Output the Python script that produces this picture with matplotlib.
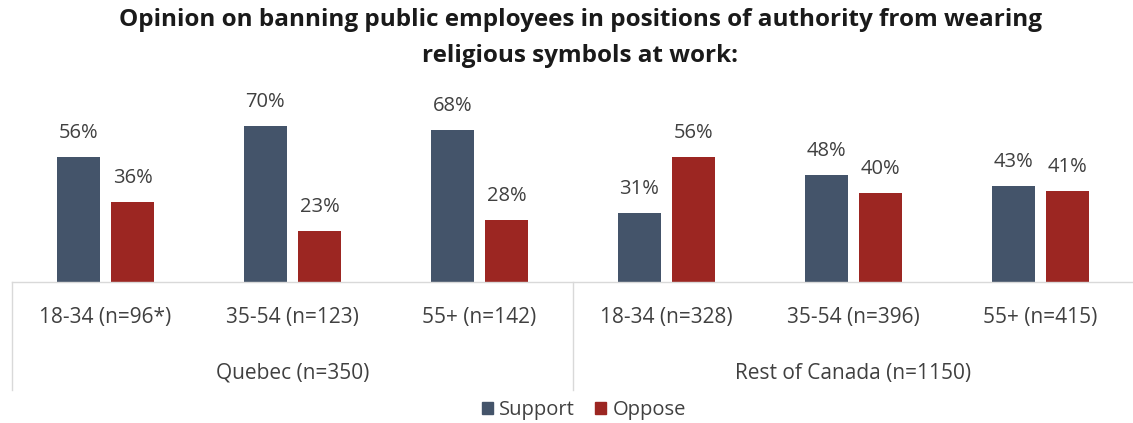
import matplotlib
matplotlib.use("Agg")
import matplotlib.pyplot as plt
import numpy as np
from matplotlib.transforms import blended_transform_factory
from matplotlib.patches import Patch

plt.rcParams['font.family'] = ['Open Sans', 'DejaVu Sans']

categories = ["18-34 (n=96*)", "35-54 (n=123)", "55+ (n=142)",
              "18-34 (n=328)", "35-54 (n=396)", "55+ (n=415)"]
regions = ["Quebec (n=350)", "Rest of Canada (n=1150)"]
support = [56, 70, 68, 31, 48, 43]
oppose = [36, 23, 28, 56, 40, 41]
title = ("Opinion on banning public employees in positions of authority from wearing\n"
         "religious symbols at work:")

C_SUP = "#44546A"
C_OPP = "#9C2622"
GRID = "#D9D9D9"
TXT = "#404040"

W, H = 1133, 423
fig = plt.figure(figsize=(W / 100, H / 100), dpi=100)
ax = fig.add_axes([12 / W, 1 - 282 / H, (1134 - 12) / W, 178.4 / H])

x = np.arange(len(categories))
bw = 0.23
off = 0.145
b1 = ax.bar(x - off, support, bw, color=C_SUP)
b2 = ax.bar(x + off, oppose, bw, color=C_OPP)
for bars, vals in ((b1, support), (b2, oppose)):
    for r, v in zip(bars, vals):
        ax.annotate(f"{v}%", (r.get_x() + r.get_width() / 2, v),
                    xytext=(0, 10), textcoords="offset points",
                    ha="center", va="bottom", fontsize=14.5, color=TXT)

ax.set_xlim(-0.5, 5.5)
ax.set_ylim(0, 80)
for s in ("top", "right", "left"):
    ax.spines[s].set_visible(False)
ax.spines["bottom"].set_color(GRID)
ax.spines["bottom"].set_linewidth(1)
ax.set_yticks([])
ax.set_xticks(x)
ax.set_xticklabels(categories, fontsize=15, color=TXT)
ax.tick_params(axis="x", length=0, pad=18)

tr = blended_transform_factory(ax.transData, ax.transAxes)
ybot = -(390 - 282) / 178.4
for sx in (-0.5, 2.5):
    ax.plot([sx, sx], [0, ybot], transform=tr, color=GRID, lw=1, clip_on=False)
ylab = -(373 - 282) / 178.4
ax.text(1, ylab, regions[0], transform=tr, ha="center", va="center", fontsize=15, color=TXT)
ax.text(4, ylab, regions[1], transform=tr, ha="center", va="center", fontsize=15, color=TXT)

fig.text(0.512, 1 - 38 / H, title, ha="center", va="center", fontsize=17.5,
         fontweight="bold", color="#1a1a1a", linespacing=1.7)

handles = [Patch(color=C_SUP, label="Support"), Patch(color=C_OPP, label="Oppose")]
fig.legend(handles=handles, loc="center", bbox_to_anchor=(584 / W, 1 - 410 / H),
           ncol=2, frameon=False, fontsize=14.5, handlelength=0.55, handleheight=0.55,
           handletextpad=0.3, columnspacing=1.0, labelcolor=TXT)

fig.savefig("out.png", dpi=100, facecolor="white")
